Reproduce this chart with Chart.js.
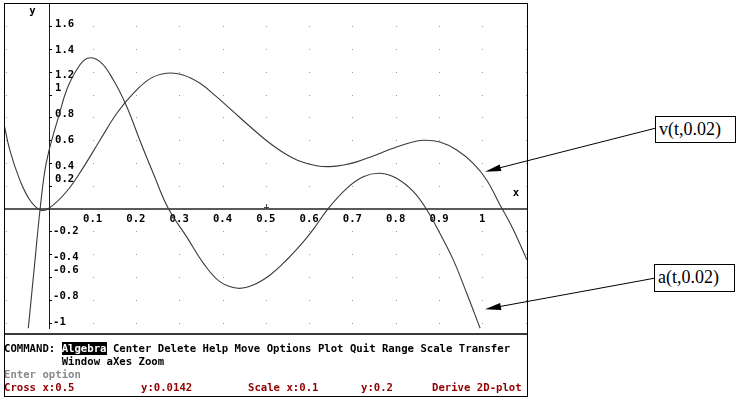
<!DOCTYPE html>
<html><head><meta charset="utf-8">
<script src="https://cdn.jsdelivr.net/npm/chart.js@4"></script>
<style>
html,body{margin:0;padding:0;background:#fff;width:748px;height:399px;overflow:hidden;}
#wrap{position:relative;width:748px;height:399px;}
#c{position:absolute;left:0;top:0;}
#frame{position:absolute;left:4px;top:3px;width:524px;height:394px;box-sizing:border-box;border:1px solid #000;pointer-events:none;}
#sep{position:absolute;left:4px;top:333px;width:523px;height:2px;background:#3a3a3a;}
.cmd{position:absolute;left:4px;font:bold 10.65px "DejaVu Sans Mono",monospace;line-height:13px;white-space:pre;color:#000;}
.hl{background:#000;color:#fff;}
.st{position:absolute;font:bold 10.65px "DejaVu Sans Mono",monospace;line-height:13px;white-space:pre;color:#900000;top:381px;}
.ann{position:absolute;box-sizing:border-box;border:1px solid #000;font:18px "Liberation Serif","Times New Roman",serif;line-height:25px;padding-left:3px;background:#fff;color:#000;}
svg{position:absolute;left:0;top:0;}
</style></head>
<body><div id="wrap">
<canvas id="c" width="531" height="337"></canvas>
<div id="sep"></div>
<div id="frame"></div>
<div class="cmd" style="top:342px">COMMAND: <span class="hl">Algebra</span> Center Delete Help Move Options Plot Quit Range Scale Transfer</div>
<div class="cmd" style="top:355px">         Window aXes Zoom</div>
<div class="cmd" style="top:368px;color:#8a8a8a">Enter option</div>
<div class="st" style="left:4px">Cross x:0.5</div>
<div class="st" style="left:141px">y:0.0142</div>
<div class="st" style="left:248px">Scale x:0.1</div>
<div class="st" style="left:361px">y:0.2</div>
<div class="st" style="left:432px">Derive 2D-plot</div>
<div class="ann" style="left:655px;top:116px;width:81px;height:27px">v(t,0.02)</div>
<div class="ann" style="left:654px;top:264px;width:81px;height:28px">a(t,0.02)</div>
<svg width="748" height="399">
<line x1="655" y1="128.3" x2="499" y2="168" stroke="#000" stroke-width="1"/>
<polygon points="485,171.7 501.4,171.1 499.6,164.4" fill="#000"/>
<line x1="654" y1="278.3" x2="499" y2="306.7" stroke="#000" stroke-width="1"/>
<polygon points="485,309.3 501.4,309.9 500.1,303.0" fill="#000"/>
</svg>
</div>
<script>
// ---- data ----
const vT = [-0.105, -0.091, -0.068, -0.045, -0.021, 0, 0.04, 0.075, 0.117, 0.156, 0.194, 0.233, 0.271, 0.309, 0.348, 0.386, 0.425, 0.464, 0.502, 0.541, 0.579, 0.617, 0.648, 0.68, 0.71, 0.748, 0.794, 0.833, 0.864, 0.902, 0.941, 0.979, 1.01, 1.041, 1.072, 1.103];
const vY = [0.75, 0.51, 0.25, 0.075, -0.012, 0.005, 0.15, 0.34, 0.6, 0.836, 1.01, 1.14, 1.187, 1.172, 1.099, 0.982, 0.85, 0.718, 0.595, 0.49, 0.415, 0.376, 0.368, 0.382, 0.41, 0.462, 0.53, 0.578, 0.599, 0.584, 0.514, 0.397, 0.251, 0.032, -0.187, -0.45];
const aT = [-0.0485, -0.035, -0.0215, -0.01, 0, 0.01, 0.021, 0.04, 0.063, 0.088, 0.117, 0.148, 0.179, 0.209, 0.24, 0.275, 0.317, 0.356, 0.394, 0.436, 0.471, 0.51, 0.548, 0.587, 0.61, 0.644, 0.687, 0.725, 0.764, 0.802, 0.841, 0.872, 0.902, 0.933, 0.964, 0.995];
const aY = [-1.05, -0.53, -0.012, 0.34, 0.52, 0.66, 0.8, 1.04, 1.216, 1.318, 1.289, 1.128, 0.894, 0.6, 0.31, 0, -0.246, -0.48, -0.641, -0.699, -0.67, -0.582, -0.451, -0.29, -0.18, 0, 0.178, 0.28, 0.31, 0.266, 0.148, -0.012, -0.217, -0.45, -0.743, -1.05];
const xTickValues = [0.1, 0.2, 0.3, 0.4, 0.5, 0.6, 0.7, 0.8, 0.9, 1];
const xTickLabels = ['0.1', '0.2', '0.3', '0.4', '0.5', '0.6', '0.7', '0.8', '0.9', '1'];
const yTickValues = [1.6, 1.4, 1.2, 1, 0.8, 0.6, 0.4, 0.2, -0.2, -0.4, -0.6, -0.8, -1];
const yTickLabels = ['1.6', '1.4', '1.2', '1', '0.8', '0.6', '0.4', '0.2', '-0.2', '-0.4', '-0.6', '-0.8', '-1'];
const cursorPoint = [0.5, 0.0142];
const xStep = 0.1, yStep = 0.2;

// ---- layout / style ----
const FONT = 'bold 10.65px "DejaVu Sans Mono", monospace';
const ROW_H = 12.95, ROW0 = 49.3;   // Derive text-row grid (labels snap to it)

const toPts = (xs, ys) => xs.map((x, i) => ({x: x, y: ys[i]}));

const derivePlugin = {
  id: 'deriveAxes',
  beforeDatasetsDraw(chart) {
    const ctx = chart.ctx, xs = chart.scales.x, ys = chart.scales.y, ca = chart.chartArea;
    const x0 = Math.round(xs.getPixelForValue(0)), y0 = Math.round(ys.getPixelForValue(0));
    ctx.save();
    ctx.fillStyle = '#9a9a9a';
    const iMin = Math.ceil(xs.min / xStep - 1e-6), iMax = Math.floor(xs.max / xStep + 1e-6);
    const jMin = Math.ceil(ys.min / yStep - 1e-6), jMax = Math.floor(ys.max / yStep + 1e-6);
    for (let i = iMin; i <= iMax; i++) {
      const px = Math.round(xs.getPixelForValue(i * xStep));
      for (let j = jMin; j <= jMax; j++) {
        const py = Math.round(ys.getPixelForValue(j * yStep));
        if (py <= ca.top + 1) continue;
        ctx.fillRect(px, py, 1, 1);
      }
    }
    ctx.fillStyle = '#5a5a5a';
    ctx.fillRect(ca.left, y0 - 1, ca.right - ca.left, 2);
    ctx.fillStyle = '#1e1e1e';
    ctx.fillRect(x0, ca.top, 1, Math.round(ys.getPixelForValue(-1.06)) - ca.top);
    ctx.font = FONT; ctx.fillStyle = '#000'; ctx.textBaseline = 'middle'; ctx.textAlign = 'left';
    yTickValues.forEach((v, k) => {
      const py = ys.getPixelForValue(v);
      ctx.fillRect(x0, Math.round(py), 3, 1);
      const row = Math.floor((py - ROW0) / ROW_H + 0.35);
      const ty = ROW0 + row * ROW_H;
      ctx.fillText(yTickLabels[k], x0 + (v < 0 ? 4 : 6), ty + 0.5);
    });
    ctx.textAlign = 'center';
    xTickValues.forEach((v, k) => {
      ctx.fillText(xTickLabels[k], xs.getPixelForValue(v), y0 + 10);
    });
    ctx.fillText('x', ca.right - 11, y0 - 16);
    ctx.fillText('y', x0 - 16.5, ca.top + 8.5);
    const cx = Math.round(xs.getPixelForValue(cursorPoint[0])), cy = Math.round(ys.getPixelForValue(cursorPoint[1]));
    ctx.fillStyle = '#444';
    ctx.fillRect(cx, cy - 3, 1, 5);
    ctx.fillRect(cx - 2, cy, 5, 1);
    ctx.restore();
  }
};

new Chart(document.getElementById('c'), {
  type: 'scatter',
  data: {
    datasets: [
      {label: 'v(t,0.02)', data: toPts(vT, vY)},
      {label: 'a(t,0.02)', data: toPts(aT, aY)}
    ]
  },
  options: {
    responsive: false, animation: false, devicePixelRatio: 1,
    layout: {padding: {left: 4, top: 3, right: 4, bottom: 3}},
    showLine: true,
    elements: {
      point: {radius: 0, hoverRadius: 0},
      line: {borderColor: '#3a3a3a', borderWidth: 1.1, tension: 0.4, fill: false}
    },
    scales: {
      x: {type: 'linear', display: false, min: -0.10462, max: 1.10323},
      y: {type: 'linear', display: false, min: -1.1, max: 1.80351}
    },
    plugins: {legend: {display: false}, tooltip: {enabled: false}}
  },
  plugins: [derivePlugin]
});
</script>
</body></html>
